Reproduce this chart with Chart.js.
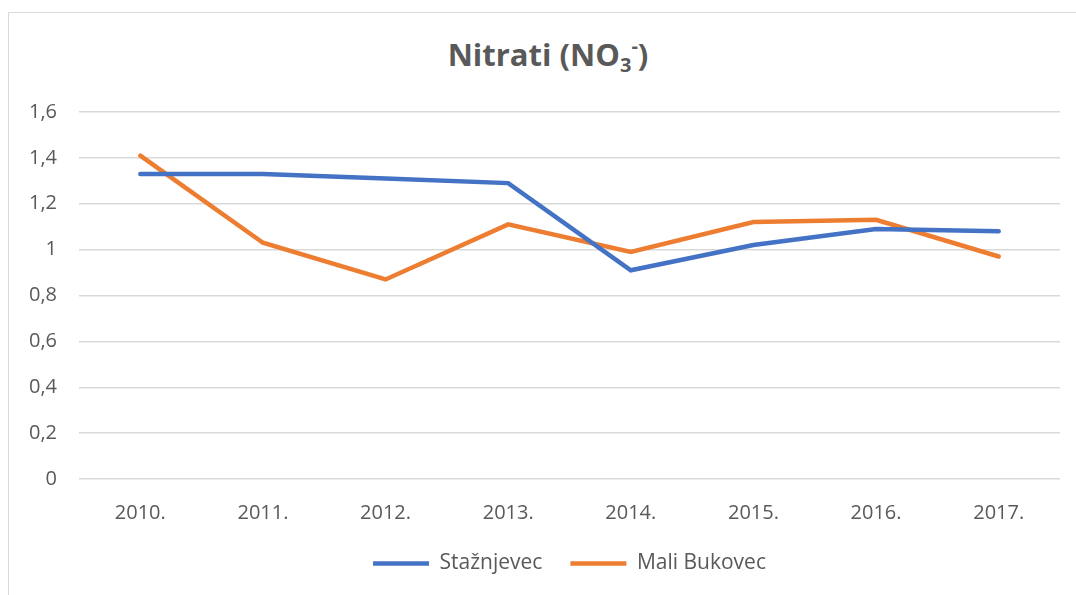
<!DOCTYPE html>
<html lang="hr">
<head>
    <meta charset="utf-8"/>
    <title>Nitrati (NO3-)</title>
    <script src="https://cdn.jsdelivr.net/npm/chart.js"></script>
    <style>
        html, body { margin: 0; padding: 0; background: #fff; overflow: hidden; }
        body { width: 1076px; height: 595px; position: relative; font-family: "Open Sans", sans-serif; }
        /* chart frame, runs off the right and bottom edges like the original */
        .frame {
            position: absolute; left: 8px; top: 12px; width: 1200px; height: 700px;
            border: 1.5px solid #d9d9d9; box-sizing: border-box;
        }
        .title {
            position: absolute; left: 10px; width: 1076px; top: 25px; text-align: center;
            font-weight: bold; font-size: 31px; color: #595959; line-height: 42px;
        }
        .title sub { font-size: 20px; vertical-align: -6px; }
        .title sup { font-size: 20px; vertical-align: 13px; }
        #wrap { position: absolute; left: 0; top: 0; width: 1076px; height: 595px; }
    </style>
</head>
<body>
    <div class="frame"></div>
    <div class="title">Nitrati (NO<sub>3</sub><sup>-</sup>)</div>
    <div id="wrap"><canvas id="chart"></canvas></div>

    <script>
        // data
        const years = ['2010.', '2011.', '2012.', '2013.', '2014.', '2015.', '2016.', '2017.'];
        const staznjevec = [1.33, 1.33, 1.31, 1.29, 0.91, 1.02, 1.09, 1.08];
        const maliBukovec = [1.41, 1.03, 0.87, 1.11, 0.99, 1.12, 1.13, 0.97];
        const yMin = 0, yMax = 1.6, yStep = 0.2;

        const textColor = '#595959';
        const gridColor = '#d9d9d9';
        const font = { family: 'Open Sans', size: 20 };

        new Chart(document.getElementById('chart'), {
            type: 'line',
            data: {
                labels: years,
                datasets: [
                    {
                        label: 'Stažnjevec',
                        data: staznjevec,
                        borderColor: '#4472C4',
                        backgroundColor: '#4472C4',
                        borderWidth: 4.5,
                        borderCapStyle: 'round',
                        pointRadius: 0,
                        tension: 0
                    },
                    {
                        label: 'Mali Bukovec',
                        data: maliBukovec,
                        borderColor: '#ED7D31',
                        backgroundColor: '#ED7D31',
                        borderWidth: 4.5,
                        borderCapStyle: 'round',
                        pointRadius: 0,
                        tension: 0
                    }
                ]
            },
            options: {
                responsive: true,
                maintainAspectRatio: false,
                animation: false,
                layout: { padding: { top: 112, right: 16, left: 0, bottom: 11 } },
                plugins: {
                    title: { display: false },
                    tooltip: { enabled: false },
                    legend: {
                        position: 'bottom',
                        fullSize: false,
                        labels: {
                            usePointStyle: true,
                            pointStyle: 'line',
                            pointStyleWidth: 56,
                            boxHeight: 21,
                            color: textColor,
                            font: { family: 'Open Sans', size: 21 },
                            padding: 28
                        }
                    }
                },
                scales: {
                    x: {
                        offset: true,
                        grid: { display: false },
                        border: { display: false },
                        ticks: {
                            color: textColor,
                            font: font,
                            padding: 14,
                            maxRotation: 0
                        },
                        afterFit: s => { s.height = 46; }
                    },
                    y: {
                        min: yMin,
                        max: yMax,
                        grid: { color: gridColor, lineWidth: 1.5, drawTicks: false },
                        border: { display: false },
                        ticks: {
                            stepSize: yStep,
                            color: textColor,
                            font: font,
                            padding: 22,
                            callback: v => String(Math.round(v * 10) / 10).replace('.', ',')
                        },
                        afterFit: s => { s.width = 79; }
                    }
                }
            }
        });
    </script>
</body>
</html>
